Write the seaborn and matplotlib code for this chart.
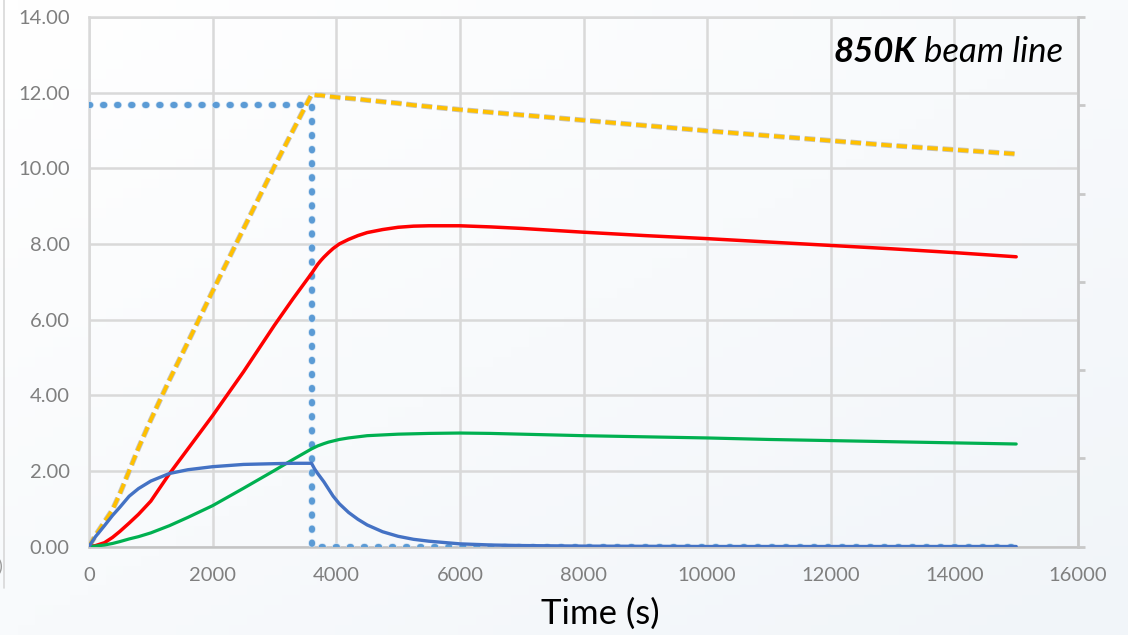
import numpy as np
import pandas as pd
import matplotlib
matplotlib.use("Agg")
import matplotlib.pyplot as plt
import matplotlib.patheffects as pe
from matplotlib.lines import Line2D
import seaborn as sns

# ---- data -------------------------------------------------------------
time_s = [0, 100, 250, 380, 500, 650, 800, 1000, 1300, 1600, 2000, 2500, 3000, 3300,
          3600, 3650, 3700, 3750, 3800, 3875, 3950, 4050, 4200, 4350, 4500, 4750,
          5000, 5250, 5500, 6000, 6500, 7000, 8000, 9000, 10000, 11000, 12000,
          13000, 14000, 15000]

total = [0, 0.28, 0.65, 0.97, 1.40, 2.00, 2.60, 3.35, 4.40, 5.40, 6.75, 8.40, 10.05, 11.00,
         11.95, 11.94, 11.93, 11.93, 11.92, 11.90, 11.89, 11.87, 11.85, 11.83, 11.80, 11.76,
         11.72, 11.67, 11.63, 11.55, 11.48, 11.41, 11.27, 11.13, 10.99, 10.86, 10.73,
         10.60, 10.49, 10.38]

red_series = [0, 0.02, 0.10, 0.24, 0.40, 0.62, 0.85, 1.20, 1.92, 2.58, 3.46, 4.62, 5.85, 6.55,
              7.22, 7.34, 7.46, 7.56, 7.65, 7.77, 7.88, 8.00, 8.12, 8.22, 8.30, 8.38,
              8.44, 8.47, 8.48, 8.48, 8.45, 8.41, 8.31, 8.22, 8.14, 8.05, 7.96,
              7.87, 7.77, 7.66]

green_series = [0, 0.01, 0.04, 0.08, 0.13, 0.20, 0.26, 0.36, 0.55, 0.77, 1.08, 1.54, 2.01, 2.30,
                2.58, 2.62, 2.66, 2.69, 2.72, 2.76, 2.79, 2.83, 2.87, 2.90, 2.93, 2.95,
                2.97, 2.98, 2.99, 3.00, 2.99, 2.97, 2.93, 2.90, 2.87, 2.83, 2.80,
                2.77, 2.74, 2.71]

blue_series = [0, 0.25, 0.55, 0.82, 1.04, 1.33, 1.53, 1.73, 1.93, 2.03, 2.11, 2.17, 2.19, 2.20,
               2.20, 2.05, 1.93, 1.82, 1.71, 1.52, 1.33, 1.13, 0.90, 0.72, 0.57, 0.39,
               0.27, 0.19, 0.14, 0.07, 0.04, 0.025, 0.01, 0.005, 0, 0, 0,
               0, 0, 0]

# beam power profile (on, then off)
beam_time = [0, 3600, 3600, 15000]
beam_level = [11.67, 11.67, 0, 0]

x_ticks = [0, 2000, 4000, 6000, 8000, 10000, 12000, 14000, 16000]
y_ticks = [0, 2, 4, 6, 8, 10, 12, 14]

curves = pd.DataFrame({"t": time_s, "total": total, "red": red_series,
                       "green": green_series, "blue": blue_series})
beam = pd.DataFrame({"t": beam_time, "p": beam_level})

# ---- style ------------------------------------------------------------
sns.set_theme(style="white")
plt.rcParams["font.family"] = ["Lato", "DejaVu Sans"]

W, H = 1128, 635
fig = plt.figure(figsize=(W / 100, H / 100), dpi=100)

# soft diagonal background wash
bg = fig.add_axes([0, 0, 1, 1], zorder=-10)
gx, gy = np.meshgrid(np.linspace(0, 1, 64), np.linspace(0, 1, 64))
w = np.clip((gx + gy) / 2, 0, 1)[..., None]
c0 = np.array([1.0, 1.0, 1.0])
c1 = np.array([0xf1, 0xf5, 0xf9]) / 255
bg.imshow(c0 * (1 - w) + c1 * w, extent=[0, 1, 0, 1], aspect="auto", origin="upper")
bg.set_axis_off()

# faint frame edge at the far left
fig.add_artist(Line2D([4 / W, 4 / W], [1 - 588 / H, 1.0], color="#d8d8d8", lw=1.2))
fig.text(-0.002, 1 - 572 / H, ")", color="#9a9a9a", fontsize=13)

left, right, top, bottom = 89, 1078, 17, 546.5
ax = fig.add_axes([left / W, 1 - bottom / H, (right - left) / W, (bottom - top) / H])
ax.set_facecolor("none")

# ---- series -----------------------------------------------------------
sns.lineplot(data=beam, x="t", y="p", ax=ax, color="#5B9BD5", lw=4.4,
             estimator=None, sort=False, zorder=3)
beam_line = ax.lines[-1]
beam_line.set_linestyle((0, (0.2, 2.1)))
beam_line.set_dash_capstyle("round")
beam_line.set_solid_capstyle("round")
beam_line.set_path_effects([pe.Stroke(linewidth=5.4, foreground="#d3e3f3"), pe.Normal()])

sns.lineplot(data=curves, x="t", y="total", ax=ax, color="#FFC000", lw=2.7,
             estimator=None, sort=False, zorder=4,
             path_effects=[pe.withStroke(linewidth=3.9, foreground="#c4c4c4")])
ax.lines[-1].set_linestyle((0, (2.8, 1.3)))

sns.lineplot(data=curves, x="t", y="red", ax=ax, color="#FF0000", lw=2.5,
             estimator=None, sort=False, zorder=5)
sns.lineplot(data=curves, x="t", y="green", ax=ax, color="#00B050", lw=2.3,
             estimator=None, sort=False, zorder=5)
sns.lineplot(data=curves, x="t", y="blue", ax=ax, color="#4472C4", lw=2.4,
             estimator=None, sort=False, zorder=6)

# ---- axes -------------------------------------------------------------
ax.set_xlim(0, 16000)
ax.set_ylim(0, 14)
ax.set_xticks(x_ticks)
ax.set_xticklabels([str(v) for v in x_ticks])
ax.set_yticks(y_ticks)
ax.set_yticklabels([f"{v:.2f}" for v in y_ticks])
ax.set_xlabel("")
ax.set_ylabel("")
ax.grid(True, color="#d9d9d9", lw=1.8, zorder=0)
ax.set_axisbelow(True)
for side in ["top", "left", "right"]:
    ax.spines[side].set_color("#d9d9d9")
    ax.spines[side].set_linewidth(1.8)
ax.spines["bottom"].set_color("#c4c4c4")
ax.spines["bottom"].set_linewidth(1.8)
ax.tick_params(axis="both", length=0, labelsize=14.5, colors="#7f7f7f")
ax.tick_params(axis="y", pad=14)
ax.tick_params(axis="x", pad=15)

# secondary scale: tick marks only
ax2 = ax.twinx()
ax2.set_ylim(0, 6)
ax2.set_yticks(range(7))
ax2.set_yticklabels([])
ax2.grid(False)
for side in ["top", "left", "bottom"]:
    ax2.spines[side].set_visible(False)
ax2.spines["right"].set_color("#c8c8c8")
ax2.spines["right"].set_linewidth(1.8)
ax2.tick_params(axis="y", right=True, length=5, width=2, color="#c8c8c8", direction="out")

# ---- annotations ------------------------------------------------------
t_beam = ax.text(0.985, 0.915, "beam line", transform=ax.transAxes, ha="right",
                 va="baseline", fontsize=25, style="italic", color="black")
ax.annotate("850K", xy=(0, 0), xycoords=t_beam, xytext=(-6, 0),
            textcoords="offset points", ha="right", va="bottom",
            fontsize=25, style="italic", fontweight="bold", color="black")

fig.text(600 / W, 1 - 624 / H, "Time (s)", ha="center", va="baseline",
         fontsize=25, color="black")

fig.savefig("out.png", dpi=100)
